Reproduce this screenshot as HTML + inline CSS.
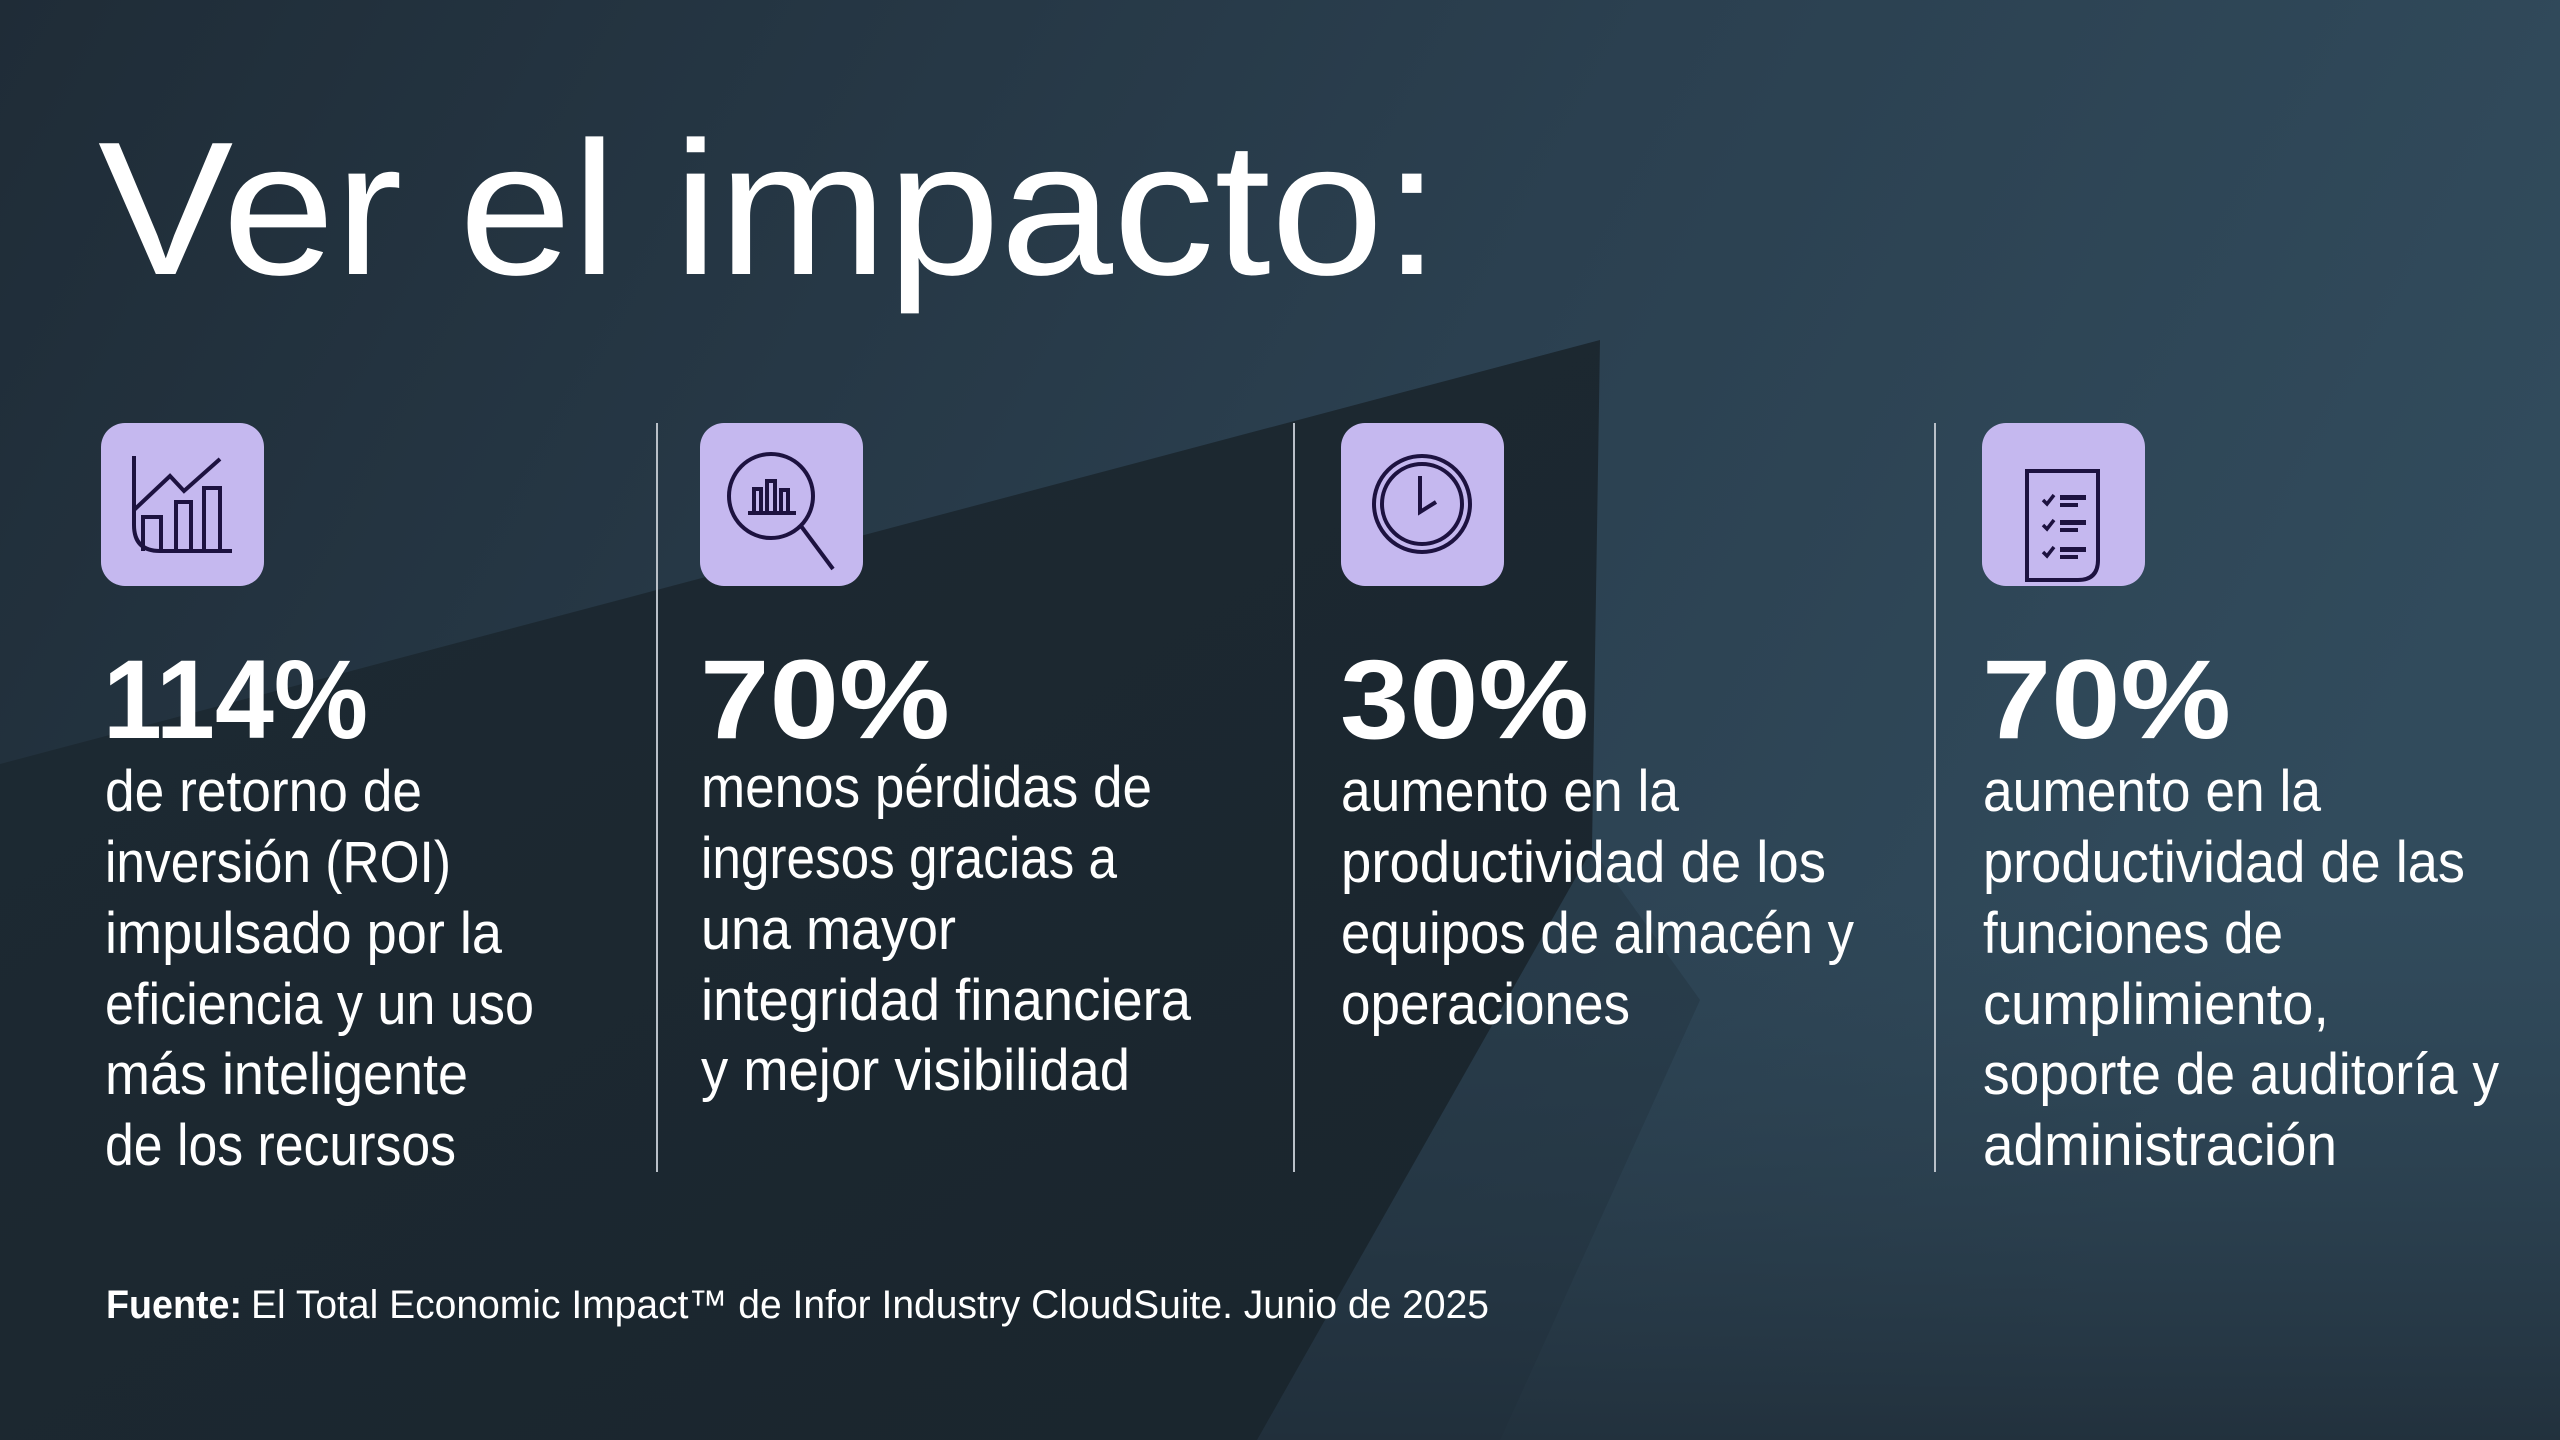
<!DOCTYPE html>
<html><head><meta charset="utf-8"><style>html,body{margin:0;padding:0;background:#1c2831}svg{display:block}</style></head>
<body>
<svg width="2560" height="1440" viewBox="0 0 2560 1440" xmlns="http://www.w3.org/2000/svg" font-family="'Liberation Sans', sans-serif">
<defs>
<linearGradient id="bg" x1="0" y1="0" x2="1" y2="0.3">
<stop offset="0" stop-color="#1f2c37"/><stop offset="0.6" stop-color="#2b4050"/><stop offset="1" stop-color="#314b5c"/>
</linearGradient>
<linearGradient id="dk" x1="0" y1="0" x2="1" y2="1">
<stop offset="0" stop-color="#1d2a33"/><stop offset="1" stop-color="#1a252d"/>
</linearGradient>
<linearGradient id="bt" x1="0" y1="0" x2="0" y2="1">
<stop offset="0" stop-color="#2a3e4d" stop-opacity="0"/><stop offset="1" stop-color="#22313d" stop-opacity="1"/>
</linearGradient>
</defs>
<rect width="2560" height="1440" fill="url(#bg)"/>
<rect y="900" width="2560" height="540" fill="url(#bt)"/>
<polygon points="0,764 1600,340 1592,849 1257,1440 0,1440" fill="url(#dk)"/>
<polygon points="1592,849 1257,1440 1500,1440 1700,1000" fill="#1f2d38" opacity="0.35"/>

<text x="98" y="274" font-size="190" fill="#fff" textLength="1342" lengthAdjust="spacingAndGlyphs">Ver el impacto:</text>

<g fill="#c5b8ef">
<rect x="101" y="423" width="163" height="163" rx="24"/>
<rect x="700" y="423" width="163" height="163" rx="24"/>
<rect x="1341" y="423" width="163" height="163" rx="24"/>
<rect x="1982" y="423" width="163" height="163" rx="24"/>
</g>
<g fill="none" stroke="#1d1240" stroke-width="4">
<!-- chart -->
<path d="M134,456 V525 Q134,551 160,551 H232"/>
<path d="M134,510 L170,476 L184,491 L220,459"/>
<path d="M143,551 V517 H161 V551"/><path d="M176,551 V502 H191 V551"/><path d="M204,551 V488 H220 V551"/>
<!-- magnifier -->
<circle cx="771" cy="496" r="42"/><line x1="801" y1="526" x2="833" y2="569"/>
<path d="M748,513 H796"/><rect x="754" y="489" width="7" height="24"/><rect x="767" y="481" width="8" height="32"/><rect x="781" y="490" width="7" height="23"/>
<!-- clock -->
<circle cx="1422" cy="504" r="48"/><circle cx="1422" cy="504" r="40"/>
<path d="M1420,476 V512 L1436,502"/>
<!-- doc -->
<path d="M2027,471 H2098 V560 Q2098,580 2078,580 H2027 Z"/>
</g>
<g fill="#1d1240">
<rect x="2060" y="495" width="26" height="5"/><rect x="2060" y="503" width="18" height="4"/>
<rect x="2060" y="520" width="26" height="5"/><rect x="2060" y="528" width="18" height="4"/>
<rect x="2060" y="547" width="26" height="5"/><rect x="2060" y="555" width="18" height="4"/>
</g>
<g fill="none" stroke="#1d1240" stroke-width="3.5">
<path d="M2043,500 l4,4 l7,-9"/><path d="M2043,525 l4,4 l7,-9"/><path d="M2043,552 l4,4 l7,-9"/>
</g>

<g stroke="#b9c0c8" stroke-width="2">
<line x1="657" y1="423" x2="657" y2="1172"/>
<line x1="1294" y1="423" x2="1294" y2="1172"/>
<line x1="1935" y1="423" x2="1935" y2="1172"/>
</g>

<g fill="#fff" font-weight="bold" font-size="112">
<text x="103" y="738" textLength="265" lengthAdjust="spacingAndGlyphs">114%</text>
<text x="700" y="738" textLength="250" lengthAdjust="spacingAndGlyphs">70%</text>
<text x="1340" y="738" textLength="249" lengthAdjust="spacingAndGlyphs">30%</text>
<text x="1982" y="738" textLength="249" lengthAdjust="spacingAndGlyphs">70%</text>
</g>

<g fill="#fff" font-size="58">
<text x="105" y="811" textLength="317" lengthAdjust="spacingAndGlyphs">de retorno de</text>
<text x="105" y="882" textLength="346" lengthAdjust="spacingAndGlyphs">inversión (ROI)</text>
<text x="105" y="953" textLength="397" lengthAdjust="spacingAndGlyphs">impulsado por la</text>
<text x="105" y="1024" textLength="429" lengthAdjust="spacingAndGlyphs">eficiencia y un uso</text>
<text x="105" y="1094" textLength="363" lengthAdjust="spacingAndGlyphs">más inteligente</text>
<text x="105" y="1165" textLength="351" lengthAdjust="spacingAndGlyphs">de los recursos</text>

<text x="701" y="807" textLength="451" lengthAdjust="spacingAndGlyphs">menos pérdidas de</text>
<text x="701" y="878" textLength="416" lengthAdjust="spacingAndGlyphs">ingresos gracias a</text>
<text x="701" y="949" textLength="255" lengthAdjust="spacingAndGlyphs">una mayor</text>
<text x="701" y="1020" textLength="490" lengthAdjust="spacingAndGlyphs">integridad financiera</text>
<text x="701" y="1090" textLength="429" lengthAdjust="spacingAndGlyphs">y mejor visibilidad</text>

<text x="1341" y="811" textLength="338" lengthAdjust="spacingAndGlyphs">aumento en la</text>
<text x="1341" y="882" textLength="485" lengthAdjust="spacingAndGlyphs">productividad de los</text>
<text x="1341" y="953" textLength="513" lengthAdjust="spacingAndGlyphs">equipos de almacén y</text>
<text x="1341" y="1024" textLength="289" lengthAdjust="spacingAndGlyphs">operaciones</text>

<text x="1983" y="811" textLength="338" lengthAdjust="spacingAndGlyphs">aumento en la</text>
<text x="1983" y="882" textLength="482" lengthAdjust="spacingAndGlyphs">productividad de las</text>
<text x="1983" y="953" textLength="300" lengthAdjust="spacingAndGlyphs">funciones de</text>
<text x="1983" y="1024" textLength="346" lengthAdjust="spacingAndGlyphs">cumplimiento,</text>
<text x="1983" y="1094" textLength="516" lengthAdjust="spacingAndGlyphs">soporte de auditoría y</text>
<text x="1983" y="1165" textLength="354" lengthAdjust="spacingAndGlyphs">administración</text>
</g>

<g fill="#fff" font-size="40">
<text x="106" y="1318" font-weight="bold" textLength="136" lengthAdjust="spacingAndGlyphs">Fuente:</text>
<text x="251" y="1318" textLength="1238" lengthAdjust="spacingAndGlyphs">El Total Economic Impact™ de Infor Industry CloudSuite. Junio de 2025</text>
</g>
</svg>
</body></html>
